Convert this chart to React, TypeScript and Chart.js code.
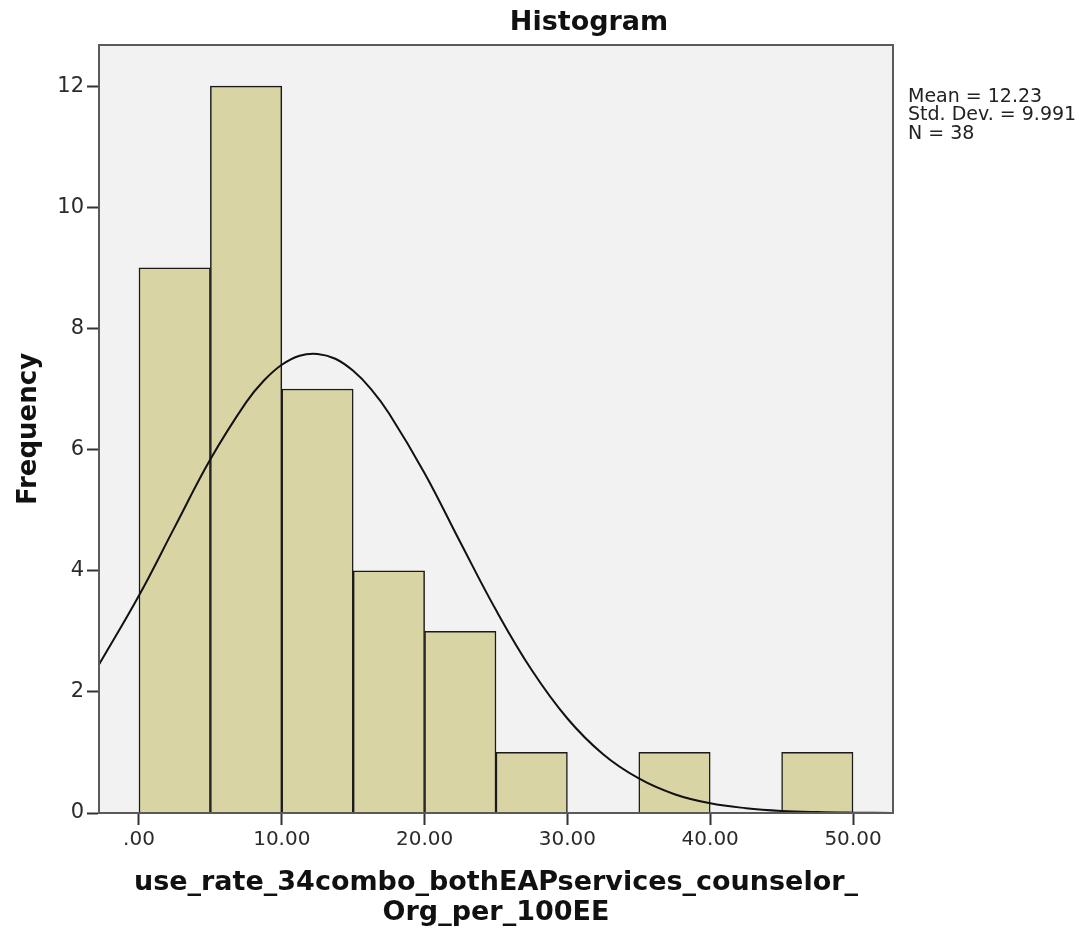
import React, { useEffect, useRef } from "react";
import { Chart, registerables } from "chart.js";

Chart.register(...registerables);

// ---- data ----
const binCenters = [2.5, 7.5, 12.5, 17.5, 22.5, 27.5, 32.5, 37.5, 42.5, 47.5];
const frequencies: (number | null)[] = [9, 12, 7, 4, 3, 1, null, 1, null, 1];

const curveX = [-2.8, 0, 2.5, 5, 7.5, 8.75, 10, 11.25, 12.5, 13.75, 15, 16.25, 17.5, 20, 22.5, 25, 27.5, 30, 32.5, 35, 37.5, 40, 42.5, 45, 47.5, 50, 52.8];
const curveY = [2.45, 3.59, 4.72, 5.84, 6.78, 7.14, 7.4, 7.55, 7.58, 7.5, 7.3, 7.0, 6.6, 5.61, 4.47, 3.35, 2.36, 1.56, 0.97, 0.57, 0.31, 0.16, 0.08, 0.035, 0.015, 0.006, 0.002];

const xTicks = [0, 10, 20, 30, 40, 50];
const xTickLabels = [".00", "10.00", "20.00", "30.00", "40.00", "50.00"];
const yTicks = [0, 2, 4, 6, 8, 10, 12];

const chartTitle = "Histogram";
const xTitle = ["use_rate_34combo_bothEAPservices_counselor_", "Org_per_100EE"];
const yTitle = "Frequency";
const statsLines = ["Mean = 12.23", "Std. Dev. = 9.991", "N = 38"];

const FONT = "'DejaVu Sans', Verdana, sans-serif";

export default function App() {
  const ref = useRef<HTMLCanvasElement | null>(null);

  useEffect(() => {
    const canvas = ref.current;
    if (!canvas) return;

    const framePlugin = {
      id: "frame",
      beforeDraw(chart: any) {
        const { ctx, chartArea: a } = chart;
        ctx.save();
        ctx.fillStyle = "#f2f2f2";
        ctx.fillRect(a.left, a.top, a.right - a.left, a.bottom - a.top);
        ctx.restore();
      },
      afterDraw(chart: any) {
        const { ctx, chartArea: a } = chart;
        ctx.save();
        ctx.strokeStyle = "#5a5a5a";
        ctx.lineWidth = 2;
        ctx.strokeRect(a.left, a.top, a.right - a.left, a.bottom - a.top);
        // title
        ctx.fillStyle = "#111";
        ctx.textBaseline = "middle";
        ctx.textAlign = "center";
        ctx.font = `bold 27px ${FONT}`;
        ctx.fillText(chartTitle, 589, 23);
        // stats
        ctx.textAlign = "left";
        ctx.font = `19px ${FONT}`;
        ctx.fillStyle = "#222";
        statsLines.forEach((s, i) => ctx.fillText(s, 908, 97 + i * 18.3));
        ctx.restore();
      },
    };

    const chart = new Chart(canvas, {
      type: "bar",
      data: {
        datasets: [
          {
            type: "line",
            data: curveX.map((x, i) => ({ x, y: curveY[i] })),
            borderColor: "#111",
            borderWidth: 2,
            pointRadius: 0,
            tension: 0.4,
            fill: false,
            order: 1,
          } as any,
          {
            type: "bar",
            data: binCenters.map((x, i) => ({ x, y: frequencies[i] })),
            backgroundColor: "#d9d4a4",
            borderColor: "#1a1a1a",
            borderWidth: 1.5,
            borderSkipped: "bottom",
            barPercentage: 1,
            categoryPercentage: 1,
            order: 2,
          } as any,
        ],
      },
      options: {
        responsive: false,
        animation: false,
        devicePixelRatio: 1,
        events: [],
        layout: { padding: { top: 45, right: 196, left: 0, bottom: 0 } },
        plugins: {
          legend: { display: false },
          tooltip: { enabled: false },
          title: { display: false },
        },
        scales: {
          x: {
            type: "linear",
            min: -2.8,
            max: 52.8,
            offset: false,
            afterBuildTicks: (s: any) => {
              s.ticks = xTicks.map((v) => ({ value: v }));
            },
            afterFit: (s: any) => {
              s.height = 116;
            },
            ticks: {
              callback: (v: any) => xTickLabels[xTicks.indexOf(Number(v))] ?? "",
              font: { family: FONT, size: 20 },
              color: "#2b2b2b",
              padding: 3,
              maxRotation: 0,
              autoSkip: false,
            },
            grid: {
              drawOnChartArea: false,
              drawTicks: true,
              tickLength: 12,
              tickColor: "#333",
              tickWidth: 2,
              offset: false,
            },
            border: { display: true, color: "#5a5a5a", width: 2 },
            title: {
              display: true,
              text: xTitle,
              font: { family: FONT, size: 27, weight: "bold", lineHeight: 1.075 },
              color: "#111",
              padding: { top: 0, bottom: 2 },
            },
          },
          y: {
            type: "linear",
            min: 0,
            max: 12.68,
            afterBuildTicks: (s: any) => {
              s.ticks = yTicks.map((v) => ({ value: v }));
            },
            afterFit: (s: any) => {
              s.width = 99;
            },
            ticks: {
              font: { family: FONT, size: 21 },
              color: "#2b2b2b",
              padding: 3,
            },
            grid: {
              drawOnChartArea: false,
              drawTicks: true,
              tickLength: 12,
              tickColor: "#333",
              tickWidth: 2,
            },
            border: { display: true, color: "#5a5a5a", width: 2 },
            title: {
              display: true,
              text: yTitle,
              font: { family: FONT, size: 26, weight: "bold" },
              color: "#111",
              padding: { top: 14, bottom: 0 },
            },
          },
        },
      },
      plugins: [framePlugin],
    } as any);

    return () => chart.destroy();
  }, []);

  return (
    <div style={{ position: "absolute", left: 0, top: 0, width: 1089, height: 929, background: "#fff" }}>
      <canvas ref={ref} width={1089} height={929} style={{ display: "block" }} />
    </div>
  );
}
